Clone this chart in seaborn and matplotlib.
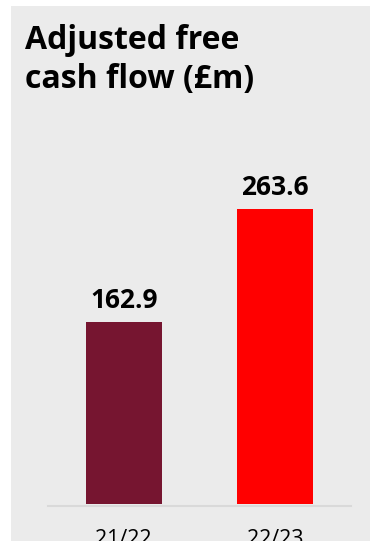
import matplotlib
matplotlib.use("Agg")
import matplotlib.pyplot as plt
from matplotlib.patches import Rectangle
import seaborn as sns
import pandas as pd

# Adjusted free cash flow by financial year
years = ["21/22", "22/23"]
values = [162.9, 263.6]
bar_colors = ["#761530", "#ff0000"]
title_lines = ["Adjusted free", "cash flow (£m)"]

sns.set_theme(style="white")
plt.rcParams["font.family"] = ["Open Sans", "DejaVu Sans"]

W, H, DPI = 370, 541, 100
fig = plt.figure(figsize=(W / DPI, H / DPI), dpi=DPI, facecolor="white")

# light grey card behind the chart
fig.patches.append(Rectangle((11 / W, 0), 1 - 11 / W, (H - 6) / H,
                             transform=fig.transFigure, facecolor="#ebebeb",
                             edgecolor="none", zorder=-10))

ax_bottom_px, ax_top_px = 504.4, 130.0
ax = fig.add_axes([48 / W, (H - ax_bottom_px) / H, (351 - 48) / W,
                   (ax_bottom_px - ax_top_px) / H])
ax.set_facecolor("none")
ax.patch.set_visible(False)

df = pd.DataFrame({"year": years, "value": values})
sns.barplot(data=df, x="year", y="value", hue="year", palette=bar_colors,
            width=0.5, legend=False, saturation=1, linewidth=0,
            edgecolor="none", ax=ax, zorder=3)

ax.set_xlim(-0.5, 1.5)
ax.set_ylim(0, (ax_bottom_px - ax_top_px) / 1.119)

for i, v in enumerate(values):
    ax.annotate(f"{v:.1f}", (i, v), xytext=(0, 6), textcoords="offset points",
                ha="center", va="bottom", fontsize=19, fontweight="bold",
                color="black")

for s in ["top", "right", "left"]:
    ax.spines[s].set_visible(False)
ax.spines["bottom"].set_color("#d9d9d9")
ax.spines["bottom"].set_linewidth(1.5)
ax.spines["bottom"].set_position(("outward", 1))
ax.spines["bottom"].set_zorder(1)

ax.set_yticks([])
ax.set_xlabel("")
ax.set_ylabel("")
ax.tick_params(axis="x", length=0, pad=17, labelsize=15.5, labelcolor="black")

fig.text(25 / W, 1 - 49 / H, title_lines[0], fontsize=23, fontweight="bold",
         color="black", ha="left", va="baseline")
fig.text(25 / W, 1 - 88 / H, title_lines[1], fontsize=23, fontweight="bold",
         color="black", ha="left", va="baseline")

fig.savefig("out.png", dpi=DPI, facecolor="white")
